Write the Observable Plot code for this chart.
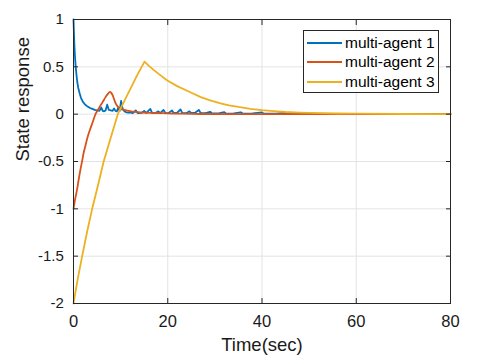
<!DOCTYPE html>
<html><head><meta charset="utf-8">
<script src="https://cdn.jsdelivr.net/npm/d3@7"></script>
<script src="https://cdn.jsdelivr.net/npm/@observablehq/plot@0.6"></script>
<style>
body{margin:0;background:#fff;}
#wrap{position:relative;width:487px;height:358px;font-family:"Liberation Sans",Arial,sans-serif;}
#legend{position:absolute;left:303px;top:30px;width:136px;height:63px;border:1px solid #262626;background:#fff;box-sizing:border-box;font-size:15.5px;color:#000;}
.row{position:absolute;left:3px;height:20px;display:flex;align-items:center;white-space:nowrap;}
.sw{width:35px;height:2px;margin-right:3px;}
</style>
</head><body>
<div id="wrap"><div id="chart"></div><div id="legend"></div></div>
<script>
const seriesNames = ["multi-agent 1","multi-agent 2","multi-agent 3"];
const seriesColors = ["#0072BD","#D95319","#EDB120"];
const xTicks = [0,20,40,60,80];
const yTicks = [1,0.5,0,-0.5,-1,-1.5,-2];
const yTickLabels = ["1","0.5","0","-0.5","-1","-1.5","-2"];

const agent1T = [0,0.1,0.2,0.3,0.45,0.6,0.8,1.0,1.3,1.6,2.0,2.5,3.0,3.5,4.0,4.5,5.0,5.5,5.9,6.2,6.5,6.8,7.15,7.5,7.9,8.3,8.6,8.9,9.2,9.5,9.8,10.1,10.4,10.8,11.2,11.6,12.0,12.6,13.2,13.6,14.5,15.0,15.4,16.3,16.7,17.5,18.0,18.4,19.1,19.5,20.2,20.9,21.3,22.0,22.7,23.1,24.0,24.6,25.0,25.8,26.6,27.0,28.0,29.0,29.4,31.0,32.0,32.4,34.0,35.5,35.9,38.0,40.0,40.4,43.0,45.0,45.4,50,55,60,70,80];
const agent1Y = [1,0.85,0.72,0.62,0.51,0.43,0.34,0.28,0.22,0.17,0.13,0.1,0.08,0.065,0.055,0.045,0.04,0.035,0.07,0.035,0.03,0.04,0.1,0.045,0.04,0.035,0.06,0.035,0.03,0.07,0.035,0.14,0.06,0.03,0.02,0.015,0.02,0.012,0.04,0.012,0.015,0.035,0.012,0.055,0.012,0.015,0.03,0.01,0.045,0.012,0.012,0.04,0.01,0.015,0.05,0.01,0.012,0.03,0.01,0.015,0.045,0.01,0.012,0.025,0.008,0.01,0.022,0.006,0.008,0.02,0.006,0.008,0.018,0.005,0.006,0.015,0.004,0.005,0.004,0.003,0.002,0.002];

const agent2T = [0,0.3,0.78,1.1,1.49,1.85,2.19,2.55,2.9,3.25,3.6,4.1,4.67,5.2,5.7,6.2,6.8,7.3,7.7,8.0,8.3,8.6,8.9,9.4,10,10.7,11.4,12.5,14.2,17,19.9,23,27,35,50,80];
const agent2Y = [-1,-0.91,-0.79,-0.69,-0.58,-0.49,-0.40,-0.33,-0.26,-0.2,-0.15,-0.08,0,0.045,0.09,0.13,0.18,0.215,0.235,0.225,0.2,0.16,0.12,0.08,0.055,0.045,0.037,0.027,0.02,0.013,0.009,0.005,0.002,0.001,0,0];

const agent3T = [0,0.9,1.84,2.9,3.96,5.2,6.4,7.9,9.4,10.8,12.2,13.6,15.07,16,17,18,19.9,22,24.8,27,29,31.2,33,35,37.5,40,42.5,45,48,52,56,60,70,80];
const agent3Y = [-2,-1.74,-1.5,-1.24,-1.0,-0.75,-0.5,-0.25,0,0.14,0.28,0.42,0.555,0.51,0.468,0.428,0.356,0.296,0.232,0.18,0.146,0.115,0.094,0.076,0.057,0.043,0.032,0.023,0.016,0.011,0.007,0.005,0.002,0.001];

const toRows = (T, Y) => T.map((t, i) => ({t, v: Y[i]}));
const a1 = toRows(agent1T, agent1Y);
const a2 = toRows(agent2T, agent2Y);
const a3 = toRows(agent3T, agent3Y);

const fmtY = d => yTickLabels[yTicks.indexOf(d)] ?? String(d);
const gridStyle = {stroke: "#e3e3e3", strokeOpacity: 1, strokeWidth: 1};
const axisColor = "#262626";

const chart = Plot.plot({
  width: 487,
  height: 358,
  marginLeft: 73,
  marginRight: 37,
  marginTop: 19,
  marginBottom: 55,
  style: {fontFamily: '"Liberation Sans", Arial, sans-serif', color: "#000", background: "#fff"},
  x: {domain: [0, 80]},
  y: {domain: [-2, 1]},
  marks: [
    Plot.gridX(xTicks, gridStyle),
    Plot.gridY(yTicks, gridStyle),
    Plot.line(a1, {x: "t", y: "v", stroke: seriesColors[0], strokeWidth: 1.8}),
    Plot.line(a2, {x: "t", y: "v", stroke: seriesColors[1], strokeWidth: 1.8, curve: "monotone-x"}),
    Plot.line(a3, {x: "t", y: "v", stroke: seriesColors[2], strokeWidth: 1.8}),
    Plot.frame({stroke: axisColor, strokeWidth: 1}),
    Plot.axisX(xTicks, {anchor: "bottom", tickSize: -5, tickPadding: 17, fontSize: 16.5, label: null, stroke: axisColor, fill: "#1a1a1a", tickFormat: d => String(d)}),
    Plot.axisX(xTicks, {anchor: "top", tickSize: -5, tickFormat: () => "", label: null, stroke: axisColor}),
    Plot.axisY(yTicks, {anchor: "left", tickSize: -5, tickPadding: 14.7, fontSize: 15, label: null, stroke: axisColor, fill: "#1a1a1a", tickFormat: fmtY}),
    Plot.axisY(yTicks, {anchor: "right", tickSize: -5, tickFormat: () => "", label: null, stroke: axisColor}),
    Plot.text(["Time(sec)"], {frameAnchor: "bottom", dy: 41.7, lineAnchor: "middle", fontSize: 18.5, fill: "#1a1a1a"}),
    Plot.text(["State response"], {frameAnchor: "left", dx: -50, rotate: -90, lineAnchor: "middle", fontSize: 18.5, fill: "#1a1a1a"})
  ]
});
document.getElementById("chart").appendChild(chart);

const legend = document.getElementById("legend");
const rowCenters = [12.7, 32.3, 51.7];
seriesNames.forEach((name, i) => {
  const row = document.createElement("div");
  row.className = "row";
  row.style.top = (rowCenters[i] - 1 - 10) + "px";
  const sw = document.createElement("div");
  sw.className = "sw";
  sw.style.background = seriesColors[i];
  const label = document.createElement("span");
  label.textContent = name;
  row.appendChild(sw);
  row.appendChild(label);
  legend.appendChild(row);
});
</script>
</body></html>
